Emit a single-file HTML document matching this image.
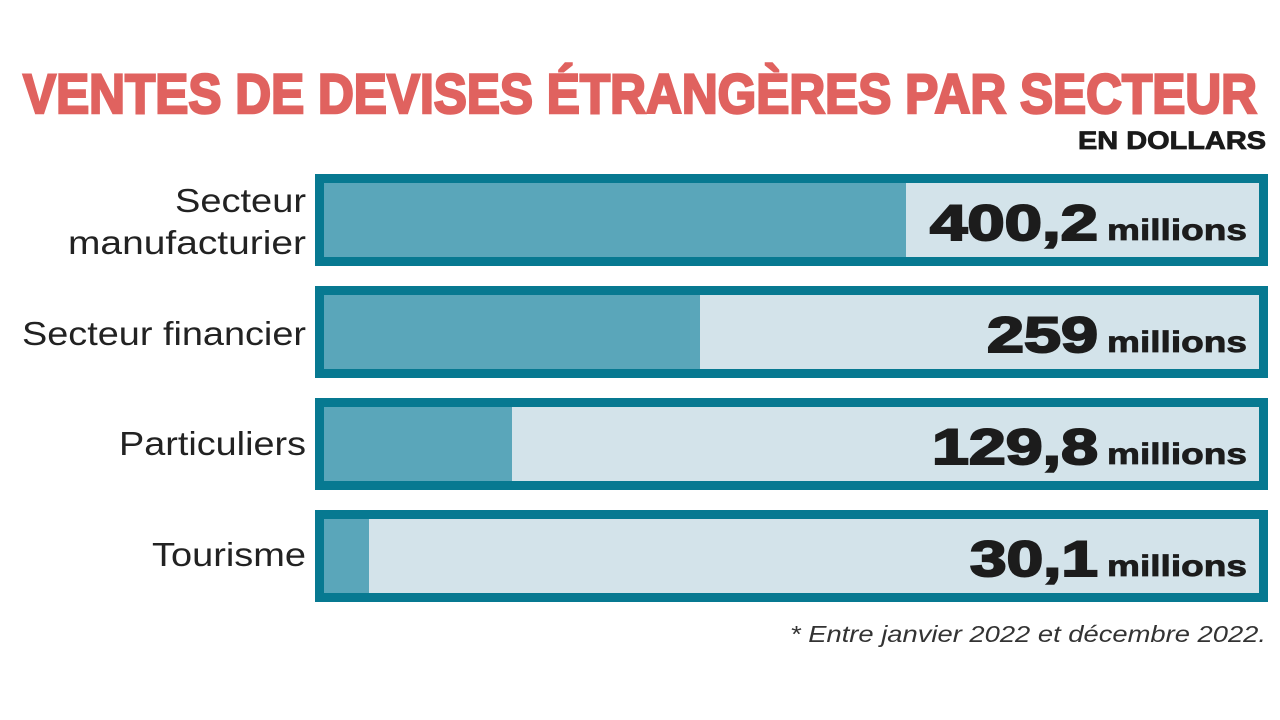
<!DOCTYPE html>
<html><head><meta charset="utf-8"><style>
html,body{margin:0;padding:0;background:#fff;width:1280px;height:720px;overflow:hidden}
svg text{font-family:"Liberation Sans",sans-serif}
</style></head><body>
<svg width="1280" height="720" viewBox="0 0 1280 720">
<text x="23" y="113" font-size="56" font-weight="bold" fill="#e0625f" stroke="#e0625f" stroke-width="2.5" textLength="1234" lengthAdjust="spacingAndGlyphs">VENTES DE DEVISES ÉTRANGÈRES PAR SECTEUR</text>
<text x="1078" y="149" font-size="25" font-weight="bold" fill="#1a1a1a" stroke="#1a1a1a" stroke-width="0.8" textLength="188" lengthAdjust="spacingAndGlyphs">EN DOLLARS</text>
<g>
<rect x="319.5" y="178.5" width="944" height="83" fill="#d3e3ea" stroke="#077991" stroke-width="9"/>
<rect x="324" y="183" width="582" height="74" fill="#5aa6ba"/>
<rect x="319.5" y="290.5" width="944" height="83" fill="#d3e3ea" stroke="#077991" stroke-width="9"/>
<rect x="324" y="295" width="376" height="74" fill="#5aa6ba"/>
<rect x="319.5" y="402.5" width="944" height="83" fill="#d3e3ea" stroke="#077991" stroke-width="9"/>
<rect x="324" y="407" width="188" height="74" fill="#5aa6ba"/>
<rect x="319.5" y="514.5" width="944" height="83" fill="#d3e3ea" stroke="#077991" stroke-width="9"/>
<rect x="324" y="519" width="45" height="74" fill="#5aa6ba"/>
</g>
<g fill="#222" font-size="33" text-anchor="end" lengthAdjust="spacingAndGlyphs">
<text x="306" y="212" textLength="131" lengthAdjust="spacingAndGlyphs">Secteur</text>
<text x="306" y="254" textLength="238" lengthAdjust="spacingAndGlyphs">manufacturier</text>
<text x="306" y="345" textLength="284" lengthAdjust="spacingAndGlyphs">Secteur financier</text>
<text x="306" y="455" textLength="187" lengthAdjust="spacingAndGlyphs">Particuliers</text>
<text x="306" y="566" textLength="154" lengthAdjust="spacingAndGlyphs">Tourisme</text>
</g>
<g fill="#1c1c1c" font-weight="bold" stroke="#1c1c1c">
<text x="930" y="240" font-size="50" stroke-width="2" textLength="168" lengthAdjust="spacingAndGlyphs">400,2</text>
<text x="1107" y="240" font-size="30" stroke-width="0.8" textLength="140" lengthAdjust="spacingAndGlyphs">millions</text>
<text x="987" y="352" font-size="50" stroke-width="2" textLength="111" lengthAdjust="spacingAndGlyphs">259</text>
<text x="1107" y="352" font-size="30" stroke-width="0.8" textLength="140" lengthAdjust="spacingAndGlyphs">millions</text>
<text x="932" y="464" font-size="50" stroke-width="2" textLength="166" lengthAdjust="spacingAndGlyphs">129,8</text>
<text x="1107" y="464" font-size="30" stroke-width="0.8" textLength="140" lengthAdjust="spacingAndGlyphs">millions</text>
<text x="970" y="576" font-size="50" stroke-width="2" textLength="128" lengthAdjust="spacingAndGlyphs">30,1</text>
<text x="1107" y="576" font-size="30" stroke-width="0.8" textLength="140" lengthAdjust="spacingAndGlyphs">millions</text>
</g>
<text x="790" y="642" font-size="23" font-style="italic" fill="#333" textLength="476" lengthAdjust="spacingAndGlyphs">* Entre janvier 2022 et décembre 2022.</text>
</svg>
</body></html>
